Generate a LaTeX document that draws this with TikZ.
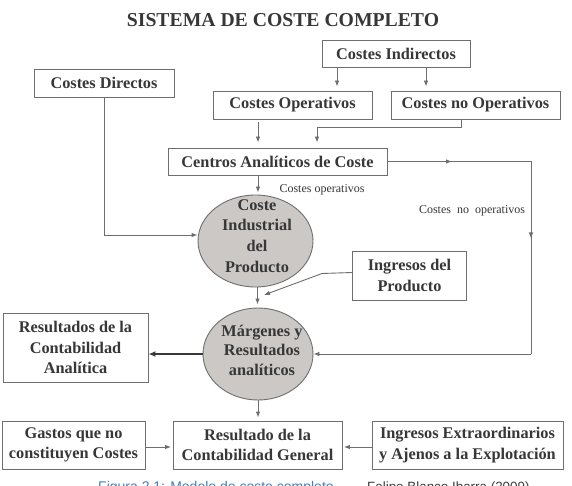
\documentclass[tikz,border=0pt]{standalone}
\usepackage{fontspec}
\setmainfont{Liberation Serif}
\newfontfamily\capfont{Liberation Sans}
\usetikzlibrary{arrows.meta,decorations.markings,shapes.geometric,calc}
\definecolor{txt}{RGB}{55,55,55}
\definecolor{edgecol}{RGB}{110,110,110}
\definecolor{ellfill}{RGB}{204,200,198}
\definecolor{capblue}{RGB}{70,125,190}
\definecolor{capgray}{RGB}{60,60,60}
\begin{document}
\begin{tikzpicture}[x=1pt,y=-1pt,
  box/.style={draw=edgecol, line width=0.9pt, text=txt, font=\bfseries\fontsize{16.3}{20.5}\selectfont, align=center, inner sep=0pt, fill=white},
  oval/.style={ellipse, draw=edgecol, line width=0.9pt, fill=ellfill, inner sep=0pt},
  ovaltxt/.style={text=txt, font=\bfseries\fontsize{16.3}{20.7}\selectfont, align=center, inner sep=0pt},
  con/.style={draw=edgecol, line width=0.9pt},
  arr/.style={con, -{Latex[length=6pt,width=4.5pt]}},
  thickarr/.style={draw=txt, line width=2.2pt, -{Latex[length=7pt,width=6pt]}},
  midarr/.style={con, postaction={decorate}, decoration={markings, mark=at position #1 with {\arrow{Latex[length=6pt,width=4.5pt]}}}},
  small/.style={text=txt, font=\fontsize{12}{14}\selectfont, inner sep=0pt},
]
\useasboundingbox (0,0) rectangle (572,486);
\fill[white] (0,0) rectangle (572,486);

\node[text=txt, font=\bfseries\fontsize{19.7}{22}\selectfont, inner sep=0pt] (title) at (283,20) {SISTEMA DE COSTE COMPLETO};

\node[box, minimum width=148pt, minimum height=27pt] (ind) at (396,53.5) {Costes Indirectos};
\node[box, minimum width=140pt, minimum height=28pt] (dir) at (104,83) {Costes Directos};
\node[box, minimum width=159pt, minimum height=28pt] (op) at (292.5,105) {Costes Operativos};
\node[box, minimum width=169pt, minimum height=28pt] (noop) at (475.5,105) {Costes no Operativos};
\node[box, minimum width=219pt, minimum height=27pt] (cen) at (277.5,161.5) {Centros Analíticos de Coste};

\node[oval, minimum width=115pt, minimum height=92pt] (cip) at (255.5,241) {};
\node[ovaltxt] (ciptxt) at (257,236) {Coste\\Industrial\\del\\Producto};

\node[box, minimum width=114pt, minimum height=49pt] (ing) at (409.5,275.5) {Ingresos del\\Producto};

\node[oval, minimum width=110pt, minimum height=92pt] (mar) at (258,354) {};
\node[ovaltxt, font=\bfseries\fontsize{16.3}{19.5}\selectfont] (martxt) at (262,350) {Márgenes y\\Resultados\\analíticos};

\node[box, minimum width=145pt, minimum height=69pt] (ra) at (75.5,347.5) {Resultados de la\\Contabilidad\\Analítica};
\node[box, minimum width=143pt, minimum height=48pt] (gas) at (73.5,445) {Gastos que no\\constituyen Costes};
\node[box, minimum width=169pt, minimum height=48pt] (res) at (257.5,445) {Resultado de la\\Contabilidad General};
\node[box, minimum width=191pt, minimum height=48pt] (iex) at (467.5,445) {Ingresos Extraordinarios\\y Ajenos a la Explotación};

\node[small] (lop) at (322,190) {Costes operativos};
\node[small] (lnoop) at (472,211) {Costes~ no~ operativos};

% connectors
\draw[arr, shorten >=4pt] ([xshift=-59pt]ind.south) -- ([xshift=44.5pt]op.north);
\draw[arr, shorten >=4pt] ([xshift=30pt]ind.south) -- ([xshift=-49.5pt]noop.north);
\draw[arr, shorten <=3pt, shorten >=5pt] ([xshift=-34.5pt]op.south) -- ([xshift=-19.5pt]cen.north);
\draw[arr, shorten >=5pt] ([xshift=-14.5pt]noop.south) -- ++(0,8) -| ([xshift=39.5pt]cen.north);
\draw[arr, shorten >=2pt] ([xshift=-19.5pt]cen.south) -- ([xshift=2.5pt]cip.north);
\draw[arr] (dir.south) |- ([yshift=6pt]cip.west);

\coordinate (rx) at (531,0);
\coordinate (cr) at (cen.east -| rx);
\coordinate (cb) at (mar.east -| rx);
\draw[midarr=0.45] (cen.east) -- (cr);
\draw[midarr=0.40] (cr) -- (cb);
\draw[arr] (cb) -- (mar.east);

\coordinate (ingtip) at (264,295);
\draw[arr] ([yshift=3pt]ing.west) -- ++(-30,1) -- (ingtip);

\draw[arr, shorten >=3pt] ([xshift=2pt]cip.south) -- ([xshift=2pt]cip.south |- mar.north);
\draw[thickarr] (mar.west) -- (mar.west -| ra.east);
\draw[arr, shorten >=3pt] (mar.south) -- (mar.south |- res.north);
\draw[arr, shorten >=1.5pt] ([yshift=-2pt]gas.east) -- ([yshift=-2pt]gas.east -| res.west);
\draw[arr, shorten >=1.5pt] ([yshift=-2pt]iex.west) -- ([yshift=-2pt]iex.west -| res.east);

% caption (cut by the lower edge)
\begin{scope}
\clip (0,0) rectangle (572,486);
\node[anchor=base west, text=capblue, font=\capfont\fontsize{14}{16}\selectfont, inner sep=0pt] (cap1) at (98,491) {Figura 2.1: Modelo de coste completo};
\node[anchor=base west, text=capgray, font=\capfont\fontsize{13.4}{16}\selectfont, inner sep=0pt] (cap2) at (367,491) {Felipe Blanco Ibarra (2009)};
\end{scope}
\end{tikzpicture}
\end{document}
